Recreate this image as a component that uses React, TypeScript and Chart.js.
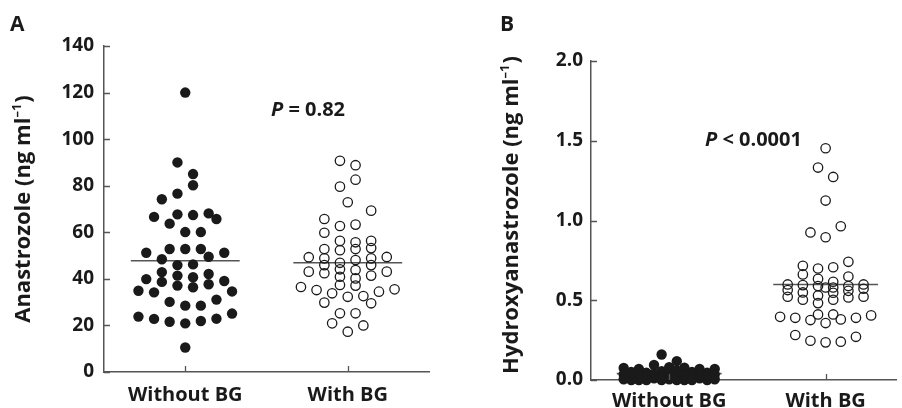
import React, { useEffect, useRef } from 'react';
import { Chart, registerables } from 'chart.js';

Chart.register(...registerables);

// ---------- DATA ----------
const categories = ['Without BG', 'With BG'];

// Panel A: anastrozole (ng ml-1); cols = beeswarm column index of each dot
const anaWithout = [120, 90, 85, 80.2, 76.6, 74.2, 66.6, 63.7, 67.7, 67.4, 68.1, 65.7, 60.1, 60.1, 51.2, 52.8, 52.8, 52.8, 51.2, 48.4, 49.5, 45.9, 46.2, 42.9, 41.4, 40.7, 42.1, 39.9, 38.7, 37.1, 36.4, 37.7, 39.1, 34.9, 34.2, 34.6, 30.1, 28.5, 28.5, 31.1, 23.8, 22.8, 21.6, 20.9, 21.9, 22.9, 25.1, 10.5];
const anaWithoutCols = [0, -1, 1, 1, -1, -3, -4, -2, -1, 1, 3, 4, 0, 2, -5, -2, 0, 2, 5, -3, 3, -1, 1, -3, -1, 1, 3, -5, -3, -1, 1, 3, 5, -6, -4, 6, -2, 0, 2, 4, -6, -4, -2, 0, 2, 4, 6, 0];
const anaWith = [90.7, 88.8, 82.6, 79.6, 72.9, 69.3, 65.7, 62.7, 63.3, 59.8, 56.3, 55.7, 56.3, 52.8, 52.3, 52.8, 53.2, 49.3, 49.4, 48.8, 46.9, 48.1, 48.8, 45.9, 45.9, 44.1, 43.8, 43.1, 43.1, 42.4, 40.9, 40.2, 41.4, 37.4, 37.1, 36.5, 35.2, 34.5, 35.5, 33.8, 32.3, 32.6, 29.8, 29.5, 25.2, 25.2, 20.9, 20.0, 17.3];
const anaWithCols = [-1, 1, 1, -1, 0, 3, -3, -1, 1, -3, -1, 1, 3, -3, -1, 1, 3, -5, 5, -3, -1, 1, 3, -3, 3, -1, 1, -5, 5, -3, -1, 1, 3, -1, 1, -6, -4, 4, 6, -2, 0, 2, -3, 3, -1, 1, -2, 2, 0];
const anaMeans = [47.8, 46.9];
const anaTicks = [0, 20, 40, 60, 80, 100, 120, 140];

// Panel B: hydroxyanastrozole (ng ml-1)
const hydWithout = [0.075, 0.069, 0.094, 0.081, 0.077, 0.069, 0.069, 0.16, 0.118, 0.05, 0.045, 0.055, 0.06, 0.05, 0.045, 0.035, 0.03, 0.04, 0.035, 0.03, 0.04, 0.035, 0.02, 0.015, 0.02, 0.025, 0.015, 0.02, 0.005, 0.0, 0.01, 0.005, 0.0, 0.01, 0.005, 0.0, 0.0, 0.0, 0.0, 0.0, 0.0];
const hydWithoutCols = [-6, -4, -2, 0, 2, 4, 6, -1, 1, -5, -3, -1, 1, 3, 5, -6, -4, -2, 0, 2, 4, 6, -5, -3, -1, 1, 3, 5, -6, -4, -2, 0, 2, 4, 6, -5, -3, -1, 1, 3, 5];
const hydWith = [1.453, 1.332, 1.273, 1.125, 0.964, 0.925, 0.895, 0.741, 0.716, 0.699, 0.707, 0.662, 0.649, 0.634, 0.616, 0.599, 0.599, 0.595, 0.589, 0.58, 0.58, 0.589, 0.564, 0.572, 0.549, 0.559, 0.53, 0.547, 0.522, 0.522, 0.518, 0.503, 0.503, 0.482, 0.396, 0.405, 0.411, 0.411, 0.39, 0.39, 0.376, 0.38, 0.357, 0.282, 0.271, 0.246, 0.24, 0.236];
const hydWithCols = [0, -1, 1, 0, 2, -2, 0, 3, -3, -1, 1, -3, 3, -1, 1, -5, 5, -3, -1, 0, 1, 3, -5, 5, -3, 3, -1, 1, -5, 5, 3, -3, 1, -1, -6, 6, -1, 1, -4, 4, -2, 2, 0, -4, 4, -2, 2, 0];
const hydMeans = [0.04, 0.599];
const hydTicks = [0, 0.5, 1.0, 1.5, 2.0];

// ---------- STYLE ----------
const FONT = '"Open Sans", Lato, "DejaVu Sans", sans-serif';
const INK = '#1a1a1a';
const AXIS = '#555';

type Group = { values: number[]; cols: number[]; filled: boolean; mean: number };
type Panel = {
  letter: string;
  letterX: number;
  yTitle: string;
  titleCx: number;
  titleCy: number;
  pText: string;
  pX: number;
  pY: number;
  ticks: number[];
  decimals: number;
  xMax: number;
  padTop: number;
  padRight: number;
  yAxisW: number;
  xAxisH: number;
  xLabelPad: number;
  yLabelPad: number;
  colW: number;
  groups: Group[];
};

const panels: Panel[] = [
  {
    letter: 'A', letterX: 10, yTitle: 'Anastrozole (ng ml', titleCx: 24, titleCy: 209,
    pText: ' = 0.82', pX: 271, pY: 116,
    ticks: anaTicks, decimals: 0, xMax: 4, padTop: 46, padRight: 22, yAxisW: 104, xAxisH: 36,
    xLabelPad: 11, yLabelPad: 10, colW: 0.096,
    groups: [
      { values: anaWithout, cols: anaWithoutCols, filled: true, mean: anaMeans[0] },
      { values: anaWith, cols: anaWithCols, filled: false, mean: anaMeans[1] },
    ],
  },
  {
    letter: 'B', letterX: 49, yTitle: 'Hydroxyanastrozole (ng ml', titleCx: 61, titleCy: 215,
    pText: ' < 0.0001', pX: 254, pY: 146,
    ticks: hydTicks, decimals: 1, xMax: 3.9, padTop: 61, padRight: 0, yAxisW: 140, xAxisH: 28,
    xLabelPad: 9, yLabelPad: 8, colW: 0.097,
    groups: [
      { values: hydWithout, cols: hydWithoutCols, filled: true, mean: hydMeans[0] },
      { values: hydWith, cols: hydWithCols, filled: false, mean: hydMeans[1] },
    ],
  },
];

function makeDecor(p: Panel) {
  return {
    id: 'decor',
    afterDraw(chart: any) {
      const ctx: CanvasRenderingContext2D = chart.ctx;
      const xs = chart.scales.x;
      const ys = chart.scales.y;
      const area = chart.chartArea;
      ctx.save();
      // inward tick marks
      ctx.strokeStyle = AXIS;
      ctx.lineWidth = 1.3;
      ctx.beginPath();
      p.ticks.forEach((t) => {
        const y = Math.round(ys.getPixelForValue(t)) + 0.5;
        ctx.moveTo(area.left, y);
        ctx.lineTo(area.left + 6, y);
      });
      [1, 3].forEach((c) => {
        const x = Math.round(xs.getPixelForValue(c)) + 0.5;
        ctx.moveTo(x, area.bottom);
        ctx.lineTo(x, area.bottom - 6);
      });
      ctx.stroke();

      ctx.fillStyle = INK;
      // panel letter
      ctx.font = `bold 21px ${FONT}`;
      ctx.textBaseline = 'alphabetic';
      ctx.textAlign = 'left';
      ctx.fillText(p.letter, p.letterX, 31);

      // P value
      ctx.font = `italic bold 20px ${FONT}`;
      ctx.fillText('P', p.pX, p.pY);
      const wP = ctx.measureText('P').width;
      ctx.font = `bold 20px ${FONT}`;
      ctx.fillText(p.pText, p.pX + wP, p.pY);

      // rotated y title with superscript
      ctx.translate(p.titleCx, p.titleCy);
      ctx.rotate(-Math.PI / 2);
      ctx.textBaseline = 'middle';
      const mainFont = `bold 22px ${FONT}`;
      const supFont = `bold 13px ${FONT}`;
      ctx.font = mainFont;
      const w1 = ctx.measureText(p.yTitle).width;
      const w3 = ctx.measureText(')').width;
      ctx.font = supFont;
      const w2 = ctx.measureText('\u20131').width;
      let x0 = -(w1 + w2 + w3 + 1) / 2;
      ctx.font = mainFont;
      ctx.fillText(p.yTitle, x0, 0);
      x0 += w1;
      ctx.font = supFont;
      ctx.fillText('\u20131', x0, -7);
      x0 += w2 + 1;
      ctx.font = mainFont;
      ctx.fillText(')', x0, 0);
      ctx.restore();
    },
  };
}

function buildConfig(p: Panel): any {
  const datasets: any[] = [];
  p.groups.forEach((g, gi) => {
    const center = gi === 0 ? 1 : 3;
    datasets.push({
      type: 'scatter',
      data: g.values.map((v, i) => ({ x: center + g.cols[i] * p.colW, y: v })),
      pointRadius: g.filled ? 5.2 : 4.7,
      pointHoverRadius: g.filled ? 5.2 : 4.7,
      pointBackgroundColor: g.filled ? INK : 'rgba(0,0,0,0)',
      pointBorderColor: INK,
      pointBorderWidth: g.filled ? 0 : 1.3,
      showLine: false,
      clip: false,
    });
  });
  p.groups.forEach((g, gi) => {
    const center = gi === 0 ? 1 : 3;
    datasets.push({
      type: 'line',
      data: [
        { x: center - 0.67, y: g.mean },
        { x: center + 0.67, y: g.mean },
      ],
      borderColor: AXIS,
      borderWidth: 1.6,
      pointRadius: 0,
      showLine: true,
      clip: false,
    });
  });
  const tickFont = { family: FONT, size: 19, weight: 'bold' as const };
  const xFont = { family: FONT, size: 20, weight: 'bold' as const };
  return {
    type: 'scatter',
    data: { datasets },
    options: {
      animation: false,
      responsive: false,
      maintainAspectRatio: false,
      events: [],
      layout: { padding: { top: p.padTop, right: p.padRight, left: 0, bottom: 0 } },
      plugins: { legend: { display: false }, tooltip: { enabled: false }, title: { display: false } },
      scales: {
        x: {
          type: 'linear',
          min: 0,
          max: p.xMax,
          afterBuildTicks: (s: any) => {
            s.ticks = [{ value: 1 }, { value: 3 }];
          },
          afterFit: (s: any) => {
            s.height = p.xAxisH;
          },
          grid: { display: false, drawTicks: false },
          border: { display: true, color: AXIS, width: 1.5 },
          ticks: {
            autoSkip: false,
            maxRotation: 0,
            padding: p.xLabelPad,
            color: INK,
            font: xFont,
            callback: (_v: any, i: number) => categories[i],
          },
        },
        y: {
          type: 'linear',
          min: p.ticks[0],
          max: p.ticks[p.ticks.length - 1],
          afterBuildTicks: (s: any) => {
            s.ticks = p.ticks.map((v) => ({ value: v }));
          },
          afterFit: (s: any) => {
            s.width = p.yAxisW;
          },
          grid: { display: false, drawTicks: false },
          border: { display: true, color: AXIS, width: 1.5 },
          ticks: {
            padding: p.yLabelPad,
            color: INK,
            font: tickFont,
            callback: (v: any) => Number(v).toFixed(p.decimals),
          },
        },
      },
    },
    plugins: [makeDecor(p)],
  };
}

function PanelChart({ panel, left }: { panel: Panel; left: number }) {
  const ref = useRef<HTMLCanvasElement | null>(null);
  useEffect(() => {
    if (!ref.current) return;
    const chart = new Chart(ref.current, buildConfig(panel));
    return () => chart.destroy();
  }, [panel]);
  return (
    <canvas
      ref={ref}
      width={451}
      height={408}
      style={{ position: 'absolute', left, top: 0, width: 451, height: 408 }}
    />
  );
}

export default function App() {
  return (
    <div style={{ position: 'fixed', left: 0, top: 0, width: 902, height: 408, background: '#fff', overflow: 'hidden' }}>
      <PanelChart panel={panels[0]} left={0} />
      <PanelChart panel={panels[1]} left={451} />
    </div>
  );
}
